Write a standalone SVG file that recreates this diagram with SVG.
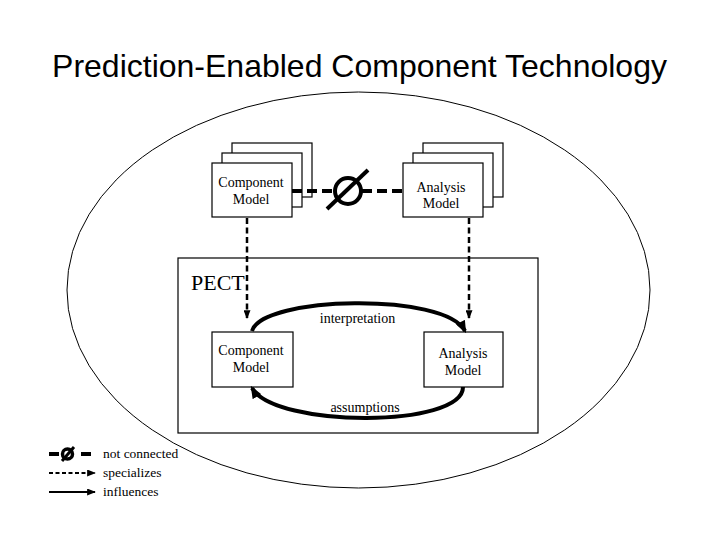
<svg xmlns="http://www.w3.org/2000/svg" width="720" height="540" viewBox="0 0 720 540">
<style>
.box{fill:#fff;stroke:#000;stroke-width:1.2}
.t{font-family:"Liberation Serif","Times New Roman",serif;font-size:14px;fill:#000;text-anchor:middle}
.lg{font-family:"Liberation Serif","Times New Roman",serif;font-size:13.5px;fill:#000}
.thick{fill:none;stroke:#000;stroke-width:4}
.nd{fill:none;stroke:#000;stroke-width:4;stroke-dasharray:10,5}
.spec{fill:none;stroke:#000;stroke-width:2.5;stroke-dasharray:6,3.5}
</style>
<defs>
<marker id="ah" viewBox="0 0 10 8" refX="8" refY="4" markerWidth="13" markerHeight="10" orient="auto" markerUnits="userSpaceOnUse"><path d="M0,0 L10,4 L0,8 z" fill="#000"/></marker>
<marker id="as" viewBox="0 0 10 8" refX="9" refY="4" markerWidth="9" markerHeight="7" orient="auto" markerUnits="userSpaceOnUse"><path d="M0,0 L10,4 L0,8 z" fill="#000"/></marker>
</defs>
<rect width="720" height="540" fill="#fff"/>
<text x="359.5" y="77" font-family="'Liberation Sans',Arial,sans-serif" font-size="32" text-anchor="middle" fill="#000">Prediction-Enabled Component Technology</text>
<g id="pect-tech-boundary"><ellipse cx="358.5" cy="290" rx="291.5" ry="198" fill="none" stroke="#000" stroke-width="1"/></g>
<g id="component-model-stack">
<rect class="box" x="232" y="143" width="80" height="54"/>
<rect class="box" x="222" y="153" width="80" height="54"/>
<rect class="box" x="212" y="163" width="80" height="54"/>
<text class="t" x="251" y="187">Component</text>
<text class="t" x="251" y="204">Model</text>
</g>
<g id="analysis-model-stack">
<rect class="box" x="423" y="143" width="80" height="54"/>
<rect class="box" x="413" y="153" width="80" height="54"/>
<rect class="box" x="403" y="163" width="80" height="54"/>
<text class="t" x="441" y="192">Analysis</text>
<text class="t" x="441" y="208">Model</text>
</g>
<g id="pect">
<rect x="178" y="258" width="360" height="175" fill="none" stroke="#000" stroke-width="1.2"/>
<text x="191" y="290" font-family="'Liberation Serif','Times New Roman',serif" font-size="22" fill="#000">PECT</text>
</g>
<g id="pect-component-model">
<rect class="box" x="212" y="332" width="81" height="55"/>
<text class="t" x="251" y="355">Component</text>
<text class="t" x="251" y="372">Model</text>
</g>
<g id="pect-analysis-model">
<rect class="box" x="424" y="332" width="79" height="55"/>
<text class="t" x="463" y="358">Analysis</text>
<text class="t" x="463" y="375">Model</text>
</g>
<g id="connectors">
<line class="nd" x1="292" y1="191" x2="334" y2="191"/>
<line class="nd" x1="362" y1="191" x2="403" y2="191"/>
<circle cx="348" cy="191" r="13" fill="none" stroke="#000" stroke-width="4"/>
<line x1="327" y1="209" x2="368" y2="170" stroke="#000" stroke-width="4"/>
<line class="spec" x1="247" y1="218" x2="247" y2="318" marker-end="url(#as)"/>
<line class="spec" x1="469" y1="218" x2="469" y2="318" marker-end="url(#as)"/>
<path class="thick" d="M252,331 C262,296 445,292 465,331" marker-end="url(#ah)"/>
<text class="t" x="357.5" y="323">interpretation</text>
<path class="thick" d="M463,387 C463,428 275,428 252,388" marker-end="url(#ah)"/>
<text class="t" x="365" y="412">assumptions</text>
</g>
<g id="legend">
<line x1="49" y1="454" x2="59" y2="454" stroke="#000" stroke-width="4"/>
<line x1="81" y1="454" x2="91" y2="454" stroke="#000" stroke-width="4"/>
<circle cx="67.5" cy="454" r="5" fill="none" stroke="#000" stroke-width="3.5"/>
<line x1="62" y1="461" x2="74" y2="447" stroke="#000" stroke-width="3"/>
<text class="lg" x="103" y="458">not connected</text>
<line x1="49" y1="473" x2="95" y2="473" stroke="#000" stroke-width="1.8" stroke-dasharray="4,2.5" marker-end="url(#as)"/>
<text class="lg" x="103" y="477">specializes</text>
<line x1="49" y1="492" x2="95" y2="492" stroke="#000" stroke-width="1.8" marker-end="url(#as)"/>
<text class="lg" x="103" y="496">influences</text>
</g>
</svg>
